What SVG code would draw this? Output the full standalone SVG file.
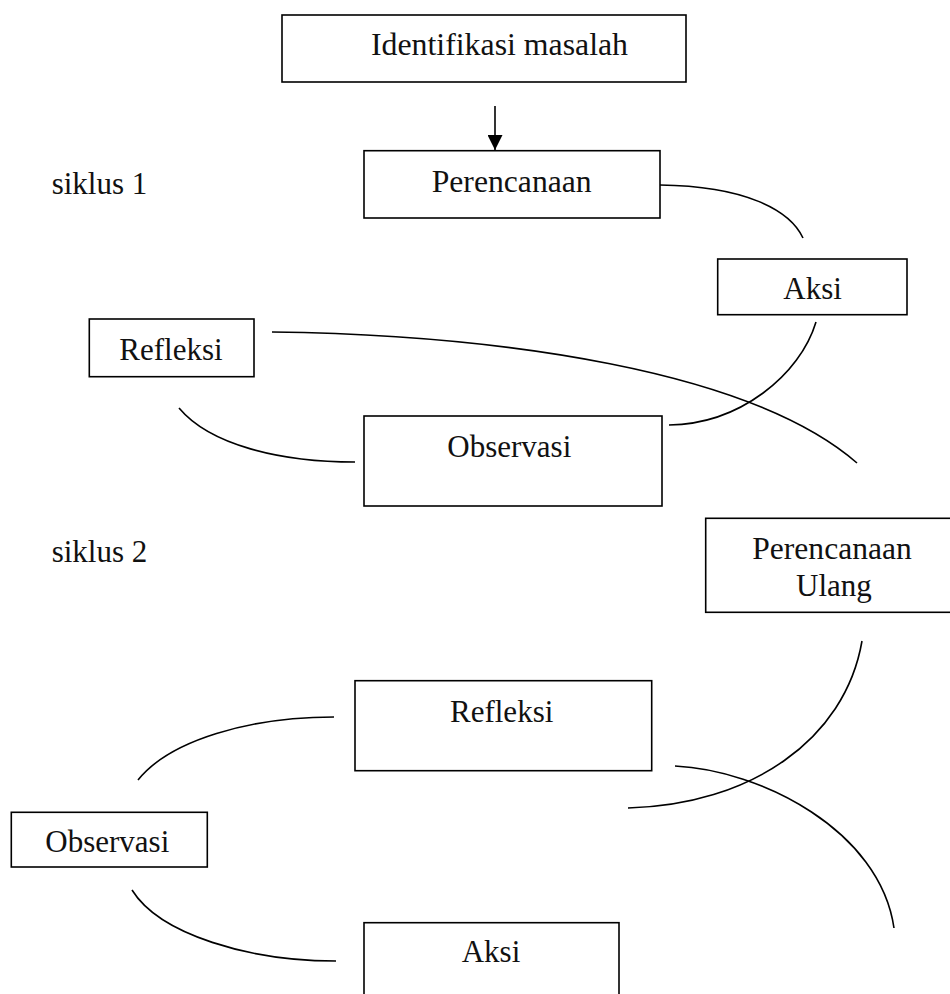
<svg xmlns="http://www.w3.org/2000/svg" width="950" height="994" viewBox="0 0 950 994">
  <style>
    .box { fill: #ffffff; stroke: #000000; stroke-width: 1.6; }
    .lbl { font-family: "Liberation Serif", "Times New Roman", serif; font-size: 31px; fill: #111111; }
    .link { fill: none; stroke: #000000; stroke-width: 1.6; }
  </style>
  <defs>
    <marker id="head" viewBox="0 0 10 10" refX="10" refY="5" markerWidth="15" markerHeight="15" markerUnits="userSpaceOnUse" orient="auto">
      <path d="M0,0 L10,5 L0,10 Z" fill="#000000"/>
    </marker>
  </defs>
  <rect x="0" y="0" width="950" height="994" fill="#ffffff"/>

  <!-- cycle labels -->
  <text class="lbl" x="51.7" y="194.3">siklus 1</text>
  <text class="lbl" x="51.7" y="562.3">siklus 2</text>

  <!-- connectors -->
  <g id="connectors">
    <line class="link" x1="495" y1="106" x2="495" y2="150" marker-end="url(#head)"/>
    <path class="link" d="M660,185 C745,186 790,210 803,238"/>
    <path class="link" d="M816,322 C800,375 740,424 669,425"/>
    <path class="link" d="M179,408 C210,445 280,462 355,462"/>
    <path class="link" d="M272,332 C500,335 750,370 857,463"/>
    <path class="link" d="M862,641 C845,740 750,805 628,808"/>
    <path class="link" d="M675,766 C760,770 880,830 894,928"/>
    <path class="link" d="M334,717 C250,717 170,740 138,780"/>
    <path class="link" d="M132,890 C160,935 250,961 336,961"/>
  </g>

  <g id="identifikasi">
    <rect class="box" x="282" y="15" width="404" height="67"/>
    <text class="lbl" x="371" y="55" font-size="32" textLength="257" lengthAdjust="spacingAndGlyphs">Identifikasi masalah</text>
  </g>

  <g id="perencanaan1">
    <rect class="box" x="364" y="150.7" width="296" height="67.3"/>
    <text class="lbl" x="431.7" y="191.7" textLength="160" lengthAdjust="spacingAndGlyphs">Perencanaan</text>
  </g>

  <g id="aksi1">
    <rect class="box" x="717.7" y="259" width="189.3" height="55.7"/>
    <text class="lbl" x="783.3" y="299">Aksi</text>
  </g>

  <g id="refleksi1">
    <rect class="box" x="89.3" y="319" width="164.7" height="57.7"/>
    <text class="lbl" x="119.3" y="360">Refleksi</text>
  </g>

  <g id="observasi1">
    <rect class="box" x="364" y="416" width="298" height="90"/>
    <text class="lbl" x="447.3" y="456.7">Observasi</text>
  </g>

  <g id="perencanaan-ulang">
    <rect class="box" x="705.7" y="518.3" width="254" height="94"/>
    <text class="lbl" x="752.3" y="559" textLength="159.4" lengthAdjust="spacingAndGlyphs">Perencanaan</text>
    <text class="lbl" x="796" y="595.7">Ulang</text>
  </g>

  <g id="refleksi2">
    <rect class="box" x="355" y="680.7" width="296.7" height="90"/>
    <text class="lbl" x="450" y="721.7">Refleksi</text>
  </g>

  <g id="observasi2">
    <rect class="box" x="11.3" y="812.3" width="196" height="54.7"/>
    <text class="lbl" x="45.3" y="852.3">Observasi</text>
  </g>

  <g id="aksi2">
    <rect class="box" x="364" y="922.7" width="255" height="90"/>
    <text class="lbl" x="461.7" y="962">Aksi</text>
  </g>
</svg>
